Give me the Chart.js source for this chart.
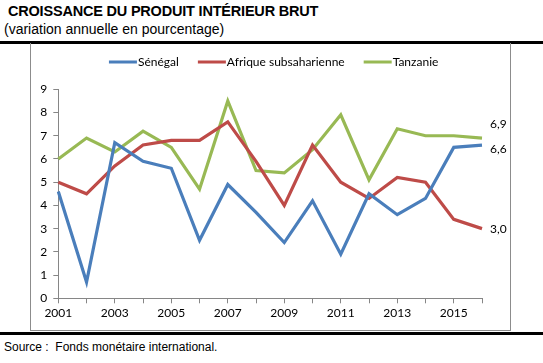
<!DOCTYPE html>
<html>
<head>
<meta charset="utf-8">
<script src="https://cdn.jsdelivr.net/npm/chart.js@4.4.1/dist/chart.umd.min.js"></script>
<style>
  html, body { margin: 0; padding: 0; background: #fff; }
  body { width: 543px; height: 363px; position: relative; overflow: hidden; font-family: "Liberation Sans", Arial, sans-serif; }
  #title { position: absolute; left: 8px; top: 3px; font-size: 14.5px; font-weight: bold; color: #000; letter-spacing: -0.2px; white-space: nowrap; }
  #subtitle { position: absolute; left: 4px; top: 21px; font-size: 14px; color: #000; white-space: nowrap; }
  #topline { position: absolute; left: 0; top: 41px; width: 543px; height: 3px; background: #000; }
  #box { position: absolute; left: 30px; top: 43px; width: 479px; height: 287px; border: 1px solid #8c8c8c; border-top: none; }
  #wrap { position: absolute; left: 31px; top: 44px; width: 479px; height: 287px; }
  #botline { position: absolute; left: 0; top: 332px; width: 543px; height: 3px; background: #000; }
  #source { position: absolute; left: 4px; top: 340px; font-size: 12px; color: #000; white-space: nowrap; }
</style>
</head>
<body>
<div id="title">CROISSANCE DU PRODUIT INTÉRIEUR BRUT</div>
<div id="subtitle">(variation annuelle en pourcentage)</div>
<div id="topline"></div>
<div id="box"></div>
<div id="wrap"><canvas id="c" width="479" height="287"></canvas></div>
<div id="botline"></div>
<div id="source">Source :&nbsp; Fonds monétaire international.</div>
<script>
const years = ["2001","2002","2003","2004","2005","2006","2007","2008","2009","2010","2011","2012","2013","2014","2015","2016"];
const senegal = [4.6, 0.7, 6.7, 5.9, 5.6, 2.5, 4.9, 3.7, 2.4, 4.2, 1.9, 4.5, 3.6, 4.3, 6.5, 6.6];
const afrique = [5.0, 4.5, 5.7, 6.6, 6.8, 6.8, 7.6, 5.9, 4.0, 6.6, 5.0, 4.3, 5.2, 5.0, 3.4, 3.0];
const tanzanie = [6.0, 6.9, 6.3, 7.2, 6.5, 4.7, 8.5, 5.5, 5.4, 6.4, 7.9, 5.1, 7.3, 7.0, 7.0, 6.9];
const seriesNames = ["Sénégal", "Afrique subsaharienne", "Tanzanie"];
const yTicks = [0, 1, 2, 3, 4, 5, 6, 7, 8, 9];

const FONT = "Lato, 'Open Sans', sans-serif";
const colors = ['#4A7EBB', '#BE4B48', '#98B954'];

// legend line marker images (line drawn next to the text)
function legendLine(color) {
  const c = document.createElement('canvas');
  c.width = 70; c.height = 4;
  const g = c.getContext('2d');
  g.fillStyle = color;
  g.fillRect(27, 0.5, 28, 3);
  return c;
}

const endLabelPlugin = {
  id: 'endLabels',
  beforeLayout(chart) {
    const lg = chart.legend;
    if (lg && !lg._patched) {
      const f = lg.fit.bind(lg);
      lg.fit = function() { f(); this.height = 45.3; };
      lg._patched = true;
    }
  },
  afterDatasetsDraw(chart) {
    const ctx = chart.ctx;
    const offsets = [4, 0, -14];
    ctx.save();
    ctx.font = "12px " + FONT;
    ctx.fillStyle = "#000";
    ctx.textBaseline = "middle";
    ctx.textAlign = "left";
    chart.data.datasets.forEach((ds, i) => {
      const meta = chart.getDatasetMeta(i);
      const pt = meta.data[meta.data.length - 1];
      const v = ds.data[ds.data.length - 1];
      const txt = v.toFixed(1).replace('.', ',');
      ctx.fillText(txt, chart.chartArea.right + 8, pt.y + offsets[i]);
    });
    ctx.restore();
  }
};

new Chart(document.getElementById('c'), {
  type: 'line',
  data: {
    labels: years,
    datasets: [
      { label: seriesNames[0], data: senegal, borderColor: colors[0], backgroundColor: colors[0], borderWidth: 3.2, pointStyle: legendLine(colors[0]) },
      { label: seriesNames[1], data: afrique, borderColor: colors[1], backgroundColor: colors[1], borderWidth: 3.2, pointStyle: legendLine(colors[1]) },
      { label: seriesNames[2], data: tanzanie, borderColor: colors[2], backgroundColor: colors[2], borderWidth: 3.2, pointStyle: legendLine(colors[2]) }
    ]
  },
  options: {
    responsive: false,
    animation: false,
    devicePixelRatio: 1,
    layout: { padding: { top: 0, right: 28, bottom: 0, left: 0 } },
    elements: {
      line: { tension: 0, borderCapStyle: 'butt', borderJoinStyle: 'miter' },
      point: { radius: 0, hoverRadius: 0 }
    },
    plugins: {
      legend: {
        position: 'top',
        fullSize: false,
        labels: {
          usePointStyle: true,
          pointStyleWidth: 30,
          boxHeight: 4,
          color: '#000',
          font: { family: FONT, size: 12 },
          padding: 12
        }
      },
      tooltip: { enabled: false }
    },
    scales: {
      x: {
        type: 'category',
        offset: false,
        grid: { display: true, drawOnChartArea: false, drawTicks: true, tickLength: 5, color: '#868686' },
        border: { display: true, color: '#868686', width: 1 },
        ticks: {
          autoSkip: false,
          maxRotation: 0,
          color: '#000',
          font: { family: FONT, size: 12 },
          padding: 3,
          callback: function(val, idx) { return idx % 2 === 0 ? this.getLabelForValue(val) : ''; }
        },
        afterFit(scale) { scale.height = 32.7; }
      },
      y: {
        min: 0, max: 9,
        afterBuildTicks(scale) { scale.ticks = yTicks.map(v => ({ value: v })); },
        grid: { display: true, drawOnChartArea: false, drawTicks: true, tickLength: 5, color: '#868686' },
        border: { display: true, color: '#868686', width: 1 },
        ticks: { color: '#000', font: { family: FONT, size: 12 }, padding: 6 },
        afterFit(scale) { scale.width = 27.3; }
      }
    }
  },
  plugins: [endLabelPlugin]
});
</script>
</body>
</html>
